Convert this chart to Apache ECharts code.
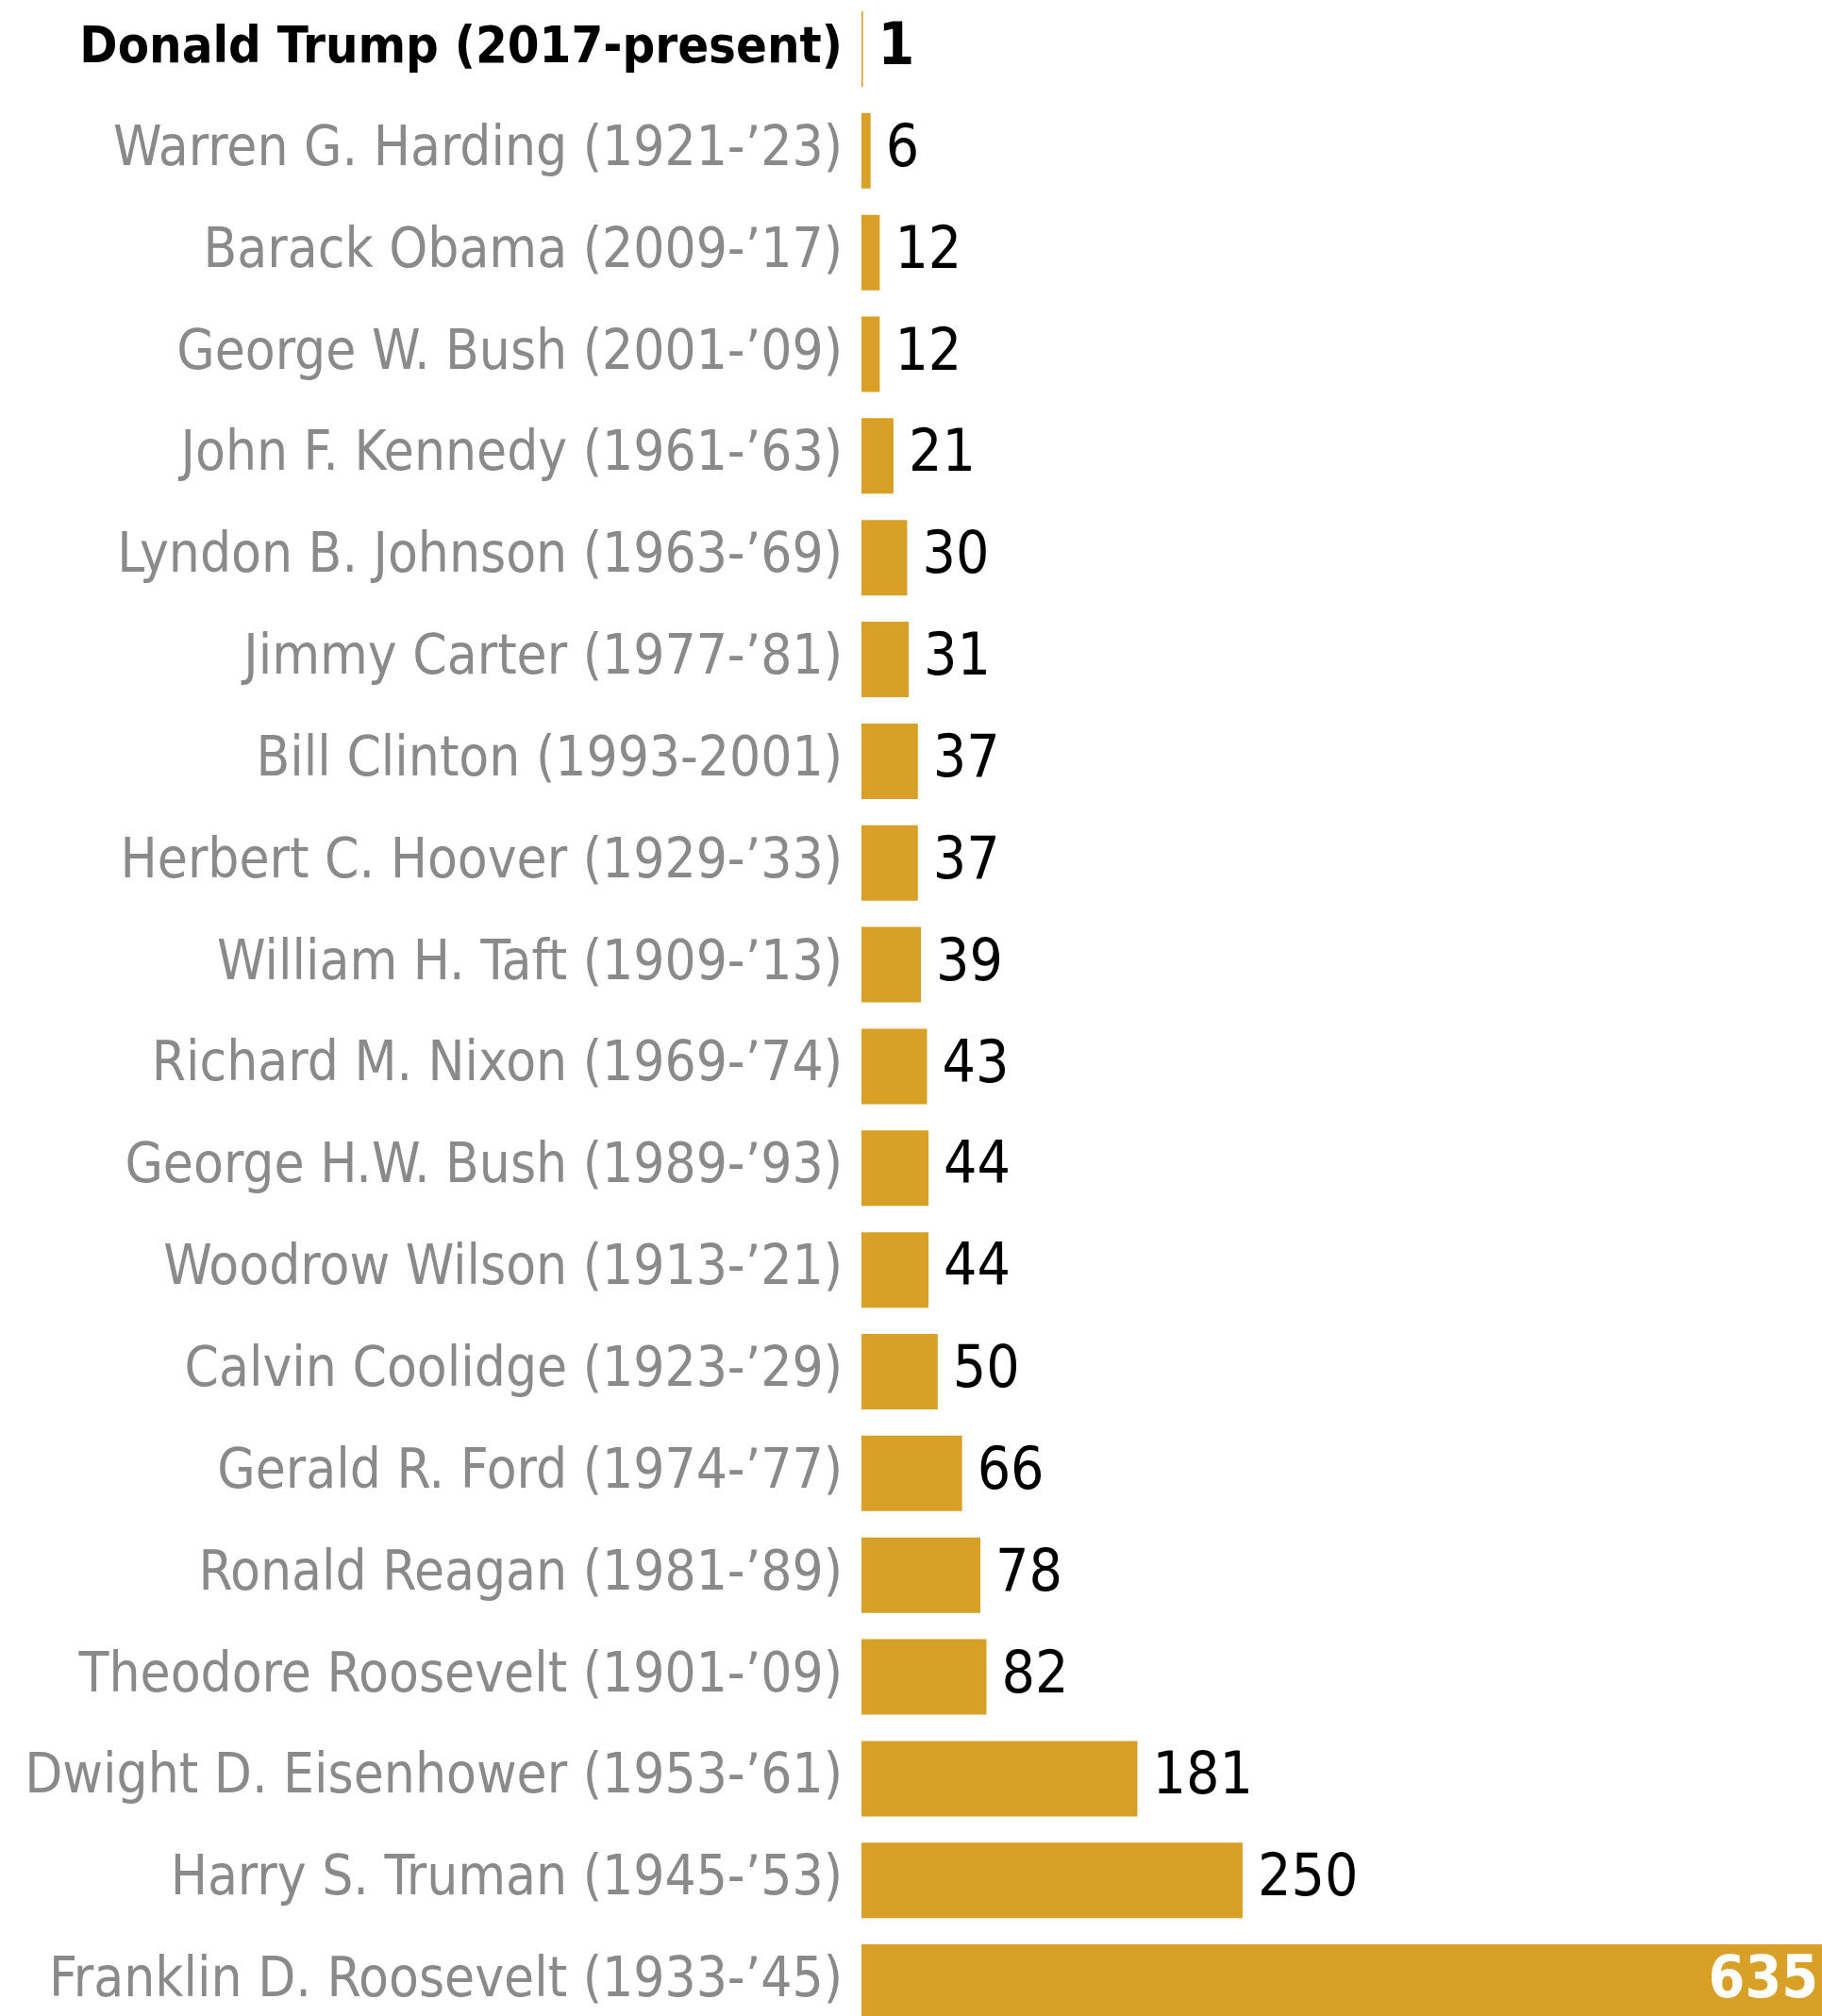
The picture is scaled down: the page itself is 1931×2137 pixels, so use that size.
<!DOCTYPE html>
<html>
<head>
<meta charset="utf-8">
<script src="https://cdn.jsdelivr.net/npm/echarts@6/dist/echarts.min.js"></script>
<style>
html,body{margin:0;padding:0;background:#fff;}
#chart{width:1931px;height:2137px;}
</style>
</head>
<body>
<div id="chart"></div>
<script>
const presidents = [
  "Donald Trump (2017-present)",
  "Warren G. Harding (1921-’23)",
  "Barack Obama (2009-’17)",
  "George W. Bush (2001-’09)",
  "John F. Kennedy (1961-’63)",
  "Lyndon B. Johnson (1963-’69)",
  "Jimmy Carter (1977-’81)",
  "Bill Clinton (1993-2001)",
  "Herbert C. Hoover (1929-’33)",
  "William H. Taft (1909-’13)",
  "Richard M. Nixon (1969-’74)",
  "George H.W. Bush (1989-’93)",
  "Woodrow Wilson (1913-’21)",
  "Calvin Coolidge (1923-’29)",
  "Gerald R. Ford (1974-’77)",
  "Ronald Reagan (1981-’89)",
  "Theodore Roosevelt (1901-’09)",
  "Dwight D. Eisenhower (1953-’61)",
  "Harry S. Truman (1945-’53)",
  "Franklin D. Roosevelt (1933-’45)"
];
const pardons = [1, 6, 12, 12, 21, 30, 31, 37, 37, 39, 43, 44, 44, 50, 66, 78, 82, 181, 250, 635];
const highlighted = "Donald Trump (2017-present)";

const FONT = '"DejaVu Sans Condensed", "Liberation Sans Narrow", "Roboto", sans-serif';
const GOLD = '#D9A027';
const maxVal = Math.max(...pardons);

const seriesData = pardons.map((v, i) => {
  const item = { value: v };
  if (v === maxVal) {
    item.label = { position: 'insideRight', distance: 12, color: '#fff', fontWeight: 'bold' };
  } else if (presidents[i] === highlighted) {
    item.label = { fontWeight: 'bold' };
  }
  return item;
});

const chart = echarts.init(document.getElementById('chart'), null, { renderer: 'canvas' });
chart.setOption({
  animation: false,
  backgroundColor: '#fff',
  grid: { left: 913, width: 1026, top: -2, height: 2157, containLabel: false, outerBoundsMode: 'none' },
  xAxis: { type: 'value', min: 0, max: maxVal, show: false },
  yAxis: {
    type: 'category',
    inverse: true,
    data: presidents,
    axisLine: { show: false },
    axisTick: { show: false },
    splitLine: { show: false },
    axisLabel: {
      margin: 20,
      fontFamily: FONT,
      fontSize: 58,
      color: '#8a8a8a',
      formatter: (val) => val === highlighted ? '{b|' + val + '}' : val,
      rich: {
        b: { fontFamily: FONT, fontSize: 54, fontWeight: 'bold', color: '#000' }
      }
    }
  },
  series: [{
    type: 'bar',
    data: seriesData,
    barWidth: 80,
    itemStyle: { color: GOLD },
    label: {
      show: true,
      position: 'right',
      distance: 16,
      fontFamily: FONT,
      fontSize: 62,
      color: '#000'
    }
  }]
});
</script>
</body>
</html>
